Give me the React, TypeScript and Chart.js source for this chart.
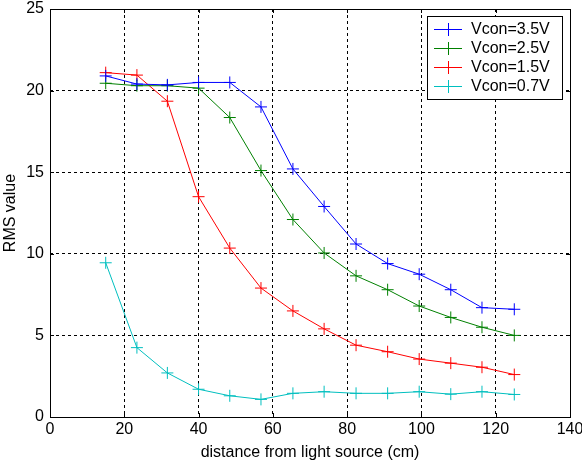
import React, { useEffect, useRef } from "react";
import { Chart, registerables } from "chart.js";

Chart.register(...registerables);

const distance = [15, 23.4, 31.6, 40, 48.4, 56.8, 65.4, 73.8, 82.4, 90.9, 99.4, 107.9, 116.3, 125];
const vcon35 = [20.9, 20.4, 20.35, 20.5, 20.5, 19.0, 15.2, 12.9, 10.6, 9.4, 8.75, 7.8, 6.7, 6.6];
const vcon25 = [20.45, 20.3, 20.3, 20.15, 18.35, 15.1, 12.1, 10.05, 8.65, 7.8, 6.8, 6.1, 5.5, 5.0];
const vcon15 = [21.1, 20.95, 19.35, 13.5, 10.35, 7.9, 6.5, 5.4, 4.4, 4.0, 3.55, 3.3, 3.05, 2.6];
const vcon07 = [9.45, 4.25, 2.7, 1.7, 1.3, 1.08, 1.45, 1.55, 1.45, 1.45, 1.55, 1.4, 1.55, 1.38];

const seriesLabels = ["Vcon=3.5V", "Vcon=2.5V", "Vcon=1.5V", "Vcon=0.7V"];
const seriesColors = ["#0000FF", "#008000", "#FF0000", "#00BFBF"];
const seriesValues = [vcon35, vcon25, vcon15, vcon07];

const xTitle = "distance from light source (cm)";
const yTitle = "RMS value";

const FONT = "Arial, 'Liberation Sans', sans-serif";
const FS = 16;

const boxPlugin = {
  id: "matlabBox",
  afterDraw(chart: any) {
    const { ctx, chartArea } = chart;
    const { left, right, top, bottom } = chartArea;
    ctx.save();
    ctx.strokeStyle = "#000";
    ctx.lineWidth = 1;
    ctx.strokeRect(Math.round(left) + 0.5, Math.round(top) + 0.5, Math.round(right - left), Math.round(bottom - top));
    // inside tick marks
    const xs = chart.scales.x;
    const ys = chart.scales.y;
    ctx.beginPath();
    xs.ticks.forEach((t: any) => {
      const px = Math.round(xs.getPixelForValue(t.value)) + 0.5;
      ctx.moveTo(px, bottom);
      ctx.lineTo(px, bottom - 4);
      ctx.moveTo(px, top);
      ctx.lineTo(px, top + 4);
    });
    ys.ticks.forEach((t: any) => {
      const py = Math.round(ys.getPixelForValue(t.value)) + 0.5;
      ctx.moveTo(left, py);
      ctx.lineTo(left + 4, py);
      ctx.moveTo(right, py);
      ctx.lineTo(right - 4, py);
    });
    ctx.stroke();

    // legend
    const lx = 427, ly = 16, lw = 135, lh = 83;
    ctx.fillStyle = "#fff";
    ctx.fillRect(lx, ly, lw, lh);
    ctx.strokeStyle = "#000";
    ctx.strokeRect(lx + 0.5, ly + 0.5, lw, lh);
    ctx.font = `${FS}px ${FONT}`;
    ctx.textBaseline = "middle";
    ctx.textAlign = "left";
    chart.data.datasets.forEach((ds: any, i: number) => {
      const cy = 29 + Math.round(i * 19);
      ctx.strokeStyle = ds.borderColor;
      ctx.lineWidth = 1;
      ctx.beginPath();
      ctx.moveTo(434, cy + 0.5);
      ctx.lineTo(462, cy + 0.5);
      ctx.moveTo(448.5, cy - 6);
      ctx.lineTo(448.5, cy + 7);
      ctx.stroke();
      ctx.fillStyle = "#000";
      ctx.fillText(ds.label, 471, cy + 1);
    });
    ctx.restore();
  },
};

export default function App() {
  const ref = useRef<HTMLCanvasElement>(null);
  useEffect(() => {
    if (!ref.current) return;
    const gridColor = (c: any) => {
      const v = c.tick?.value;
      const s = c.scale;
      if (v === s.min || v === s.max) return "rgba(0,0,0,0)";
      return "#000";
    };
    const chart = new Chart(ref.current, {
      type: "line",
      data: {
        datasets: seriesValues.map((vals, i) => ({
          label: seriesLabels[i],
          data: distance.map((d, j) => ({ x: d, y: vals[j] })),
          borderColor: seriesColors[i],
          backgroundColor: seriesColors[i],
          borderWidth: 1,
          pointStyle: "cross",
          pointRadius: 6,
          pointBorderWidth: 1,
          pointBorderColor: seriesColors[i],
          fill: false,
          tension: 0,
        })),
      },
      options: {
        responsive: false,
        animation: false,
        devicePixelRatio: 1,
        layout: { padding: { top: 9, right: 12, left: 0, bottom: 0 } },
        plugins: { legend: { display: false }, tooltip: { enabled: false } },
        scales: {
          x: {
            type: "linear",
            min: 0,
            max: 140,
            ticks: { stepSize: 20, color: "#000", font: { family: FONT, size: FS }, padding: 3, maxRotation: 0 },
            grid: { color: gridColor, drawTicks: false, lineWidth: 1 },
            border: { display: false, dash: [3, 3] },
            title: { display: true, text: xTitle, color: "#000", font: { family: FONT, size: FS }, padding: { top: 0, bottom: 0 } },
            afterFit: (s: any) => { s.height = 45; s.paddingLeft = 0; s.paddingRight = 0; },
          },
          y: {
            type: "linear",
            min: 0,
            max: 25,
            ticks: { stepSize: 5, color: "#000", font: { family: FONT, size: FS }, padding: 6 },
            grid: { color: gridColor, drawTicks: false, lineWidth: 1 },
            border: { display: false, dash: [3, 3] },
            title: { display: true, text: yTitle, color: "#000", font: { family: FONT, size: FS }, padding: { top: 1, bottom: 0 } },
            afterFit: (s: any) => { s.width = 50; s.paddingTop = 0; s.paddingBottom = 0; },
          },
        },
      },
      plugins: [boxPlugin],
    } as any);
    return () => chart.destroy();
  }, []);
  return (
    <div style={{ position: "fixed", left: 0, top: 0, width: 582, height: 462, background: "#fff" }}>
      <canvas ref={ref} width={582} height={462} style={{ width: 582, height: 462 }} />
    </div>
  );
}
